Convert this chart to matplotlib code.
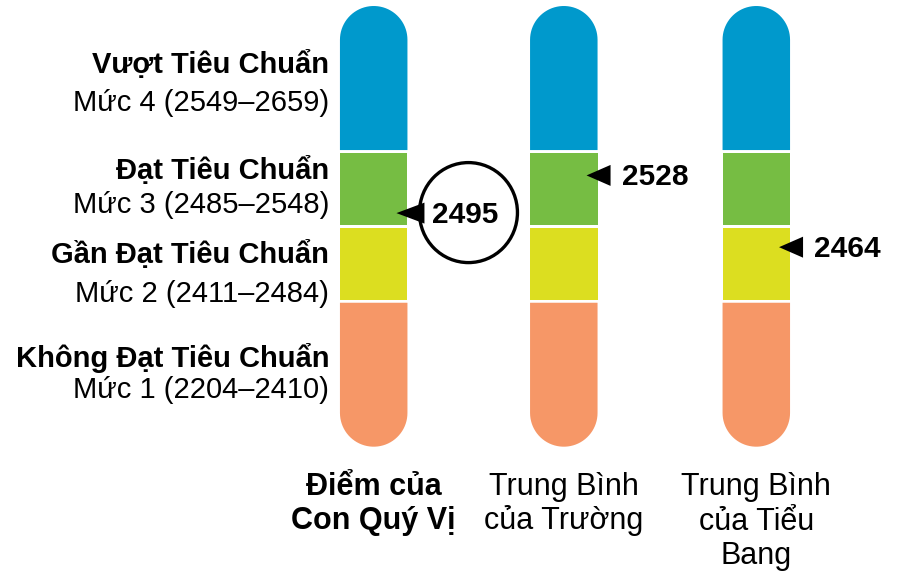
import numpy as np
import matplotlib
matplotlib.use("Agg")
import matplotlib.pyplot as plt
from matplotlib.patches import Polygon, Ellipse

plt.rcParams['font.family'] = ['Liberation Sans', 'DejaVu Sans']

# ---------------- data ----------------
level_names = ["Không Đạt Tiêu Chuẩn", "Gần Đạt Tiêu Chuẩn", "Đạt Tiêu Chuẩn", "Vượt Tiêu Chuẩn"]
level_labels = ["Mức 1 (2204–2410)", "Mức 2 (2411–2484)", "Mức 3 (2485–2548)", "Mức 4 (2549–2659)"]
level_min = [2204, 2411, 2485, 2549]
level_max = [2410, 2484, 2548, 2659]
level_colors = ["#F69767", "#DCDE20", "#76BD43", "#0099CC"]
columns = ["Điểm của\nCon Quý Vị", "Trung Bình\ncủa Trường", "Trung Bình\ncủa Tiểu\nBang"]
column_bold = [True, False, False]
scores = [2495, 2528, 2464]
circled = [True, False, False]

# ---------------- layout (pixel space) ----------------
W, H = 899, 572
bar_centers = [373.7, 563.8, 756.3]
bar_width = 67.5
band_edges_px = [446.7, 301.4, 226.4, 151.4, 6.0]   # bottom of level1 ... top of level4
half_gap = 1.35
label_right = 329
name_baselines = [367.3, 263.3, 179.3, 73.3]
level_baselines = [398.3, 301.7, 213.3, 111.0]
col_first_baseline = 495.0
col_line_step = 34.5
fs_left = 21
fs_num = 21.5
fs_col = 22

score_bounds = [level_min[0]] + [(level_max[i] + level_min[i + 1]) / 2 for i in range(3)] + [level_max[-1]]


def score_to_y(s):
    return float(np.interp(s, score_bounds, band_edges_px))


fig = plt.figure(figsize=(W / 100, H / 100), dpi=100)
ax = fig.add_axes([0, 0, 1, 1])
ax.set_xlim(0, W)
ax.set_ylim(H, 0)
ax.axis('off')

r = bar_width / 2


def band_poly(cx, y_top, y_bot, cap_top, cap_bot):
    pts = []
    x0, x1 = cx - r, cx + r
    if cap_bot:
        th = np.linspace(np.pi, 0, 40)
        cy = y_bot - r
        pts += list(zip(cx + r * np.cos(th), cy + r * np.sin(th)))
    else:
        pts += [(x0, y_bot), (x1, y_bot)]
    if cap_top:
        th = np.linspace(0, np.pi, 40)
        cy = y_top + r
        pts += list(zip(cx + r * np.cos(th), cy - r * np.sin(th)))
    else:
        pts += [(x1, y_top), (x0, y_top)]
    return pts


for bi, cx in enumerate(bar_centers):
    for li in range(4):
        y_bot = score_to_y(score_bounds[li])
        y_top = score_to_y(score_bounds[li + 1])
        if li > 0:
            y_bot -= half_gap
        if li < 3:
            y_top += half_gap
        poly = Polygon(band_poly(cx, y_top, y_bot, li == 3, li == 0), closed=True,
                       facecolor=level_colors[li], edgecolor='none')
        ax.add_patch(poly)

# score markers
tri_w, tri_h = 24, 21
for bi, (cx, s) in enumerate(zip(bar_centers, scores)):
    y = score_to_y(s)
    tip = cx + r - 11
    if circled[bi]:
        ccx = tip + 72
        circ = Ellipse((ccx, y - 1.5), 98, 100, facecolor='white', edgecolor='black', lw=2.4, zorder=3)
        ax.add_patch(circ)
        tri = Polygon([(tip, y - 1), (tip + 28, y - tri_h / 2 - 1), (tip + 28, y + tri_h / 2 - 1)],
                      closed=True, facecolor='black', edgecolor='none', zorder=4)
        ax.add_patch(tri)
        ax.text(ccx - 3, y + 9, f"{s}", ha='center', va='baseline', fontsize=fs_num,
                fontweight='bold', color='black', zorder=5)
    else:
        tri = Polygon([(tip, y), (tip + tri_w, y - tri_h / 2), (tip + tri_w, y + tri_h / 2)],
                      closed=True, facecolor='black', edgecolor='none', zorder=4)
        ax.add_patch(tri)
        ax.text(tip + tri_w + 11, y + 10, f"{s}", ha='left', va='baseline', fontsize=fs_num,
                fontweight='bold', color='black', zorder=5)

# level labels on the left
for li in range(4):
    ax.text(label_right, name_baselines[li], level_names[li], ha='right', va='baseline',
            fontsize=fs_left, fontweight='bold', color='black')
    ax.text(label_right, level_baselines[li], level_labels[li], ha='right', va='baseline',
            fontsize=fs_left, color='black')

# column labels
for bi, (cx, lab) in enumerate(zip(bar_centers, columns)):
    for k, line in enumerate(lab.split("\n")):
        ax.text(cx, col_first_baseline + k * col_line_step, line, ha='center', va='baseline',
                fontsize=fs_col, fontweight='bold' if column_bold[bi] else 'normal', color='black')

fig.savefig("out.png", dpi=100)
